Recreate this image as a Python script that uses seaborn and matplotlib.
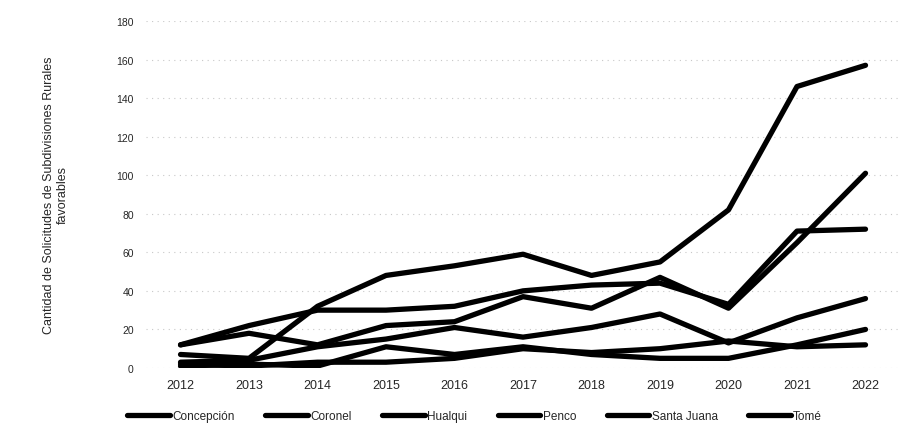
import pandas as pd
import matplotlib.pyplot as plt
import seaborn as sns

years = list(range(2012, 2023))

concepcion = [7, 5, 32, 48, 53, 59, 48, 55, 82, 146, 157]
coronel = [12, 22, 30, 30, 32, 40, 43, 44, 33, 71, 72]
hualqui = [12, 18, 12, 22, 24, 37, 31, 47, 31, 65, 101]
penco = [3, 4, 11, 15, 21, 16, 21, 28, 13, 26, 36]
santa_juana = [1, 2, 1, 11, 7, 11, 7, 5, 5, 12, 20]
tome = [2, 1, 3, 3, 5, 10, 8, 10, 14, 11, 12]

comunas = ["Concepción", "Coronel", "Hualqui", "Penco", "Santa Juana", "Tomé"]
series = [concepcion, coronel, hualqui, penco, santa_juana, tome]

df = pd.DataFrame({
    "year": years * len(comunas),
    "value": sum(series, []),
    "comuna": [c for c in comunas for _ in years],
})

sns.set_style("white")
plt.rcParams["font.family"] = ["Liberation Sans", "DejaVu Sans"]

fig = plt.figure(figsize=(9.2, 4.39), dpi=100)
ax = fig.add_axes([0.159, 0.1595, 0.819, 0.7905])

sns.lineplot(
    data=df, x="year", y="value", hue="comuna",
    palette=["black"] * len(comunas), linewidth=3.8,
    legend=False, ax=ax,
)

ax.set_xlim(2011.5, 2022.5)
ax.set_ylim(0, 180)
ax.set_xticks(years)
ax.set_xticklabels([str(y) for y in years], fontsize=9)
ax.set_yticks(range(0, 181, 20))
ax.tick_params(axis="y", labelsize=7.5, length=0, pad=9)
ax.tick_params(axis="x", length=0, pad=8)
ax.grid(axis="y", color="#c8c8c8", linestyle=(0, (1, 4)), linewidth=0.8)
ax.set_xlabel("")
ax.set_ylabel("Cantidad de Solicitudes de Subdivisiones Rurales\nfavorables",
              fontsize=9, labelpad=34)
for s in ax.spines.values():
    s.set_visible(False)

handles = [plt.Line2D([], [], color="black", linewidth=3.8) for _ in comunas]
fig.legend(handles, comunas, loc="center", bbox_to_anchor=(0.516, 0.05),
           ncol=6, frameon=False, fontsize=8.5, handlelength=3.6,
           handletextpad=0.2, columnspacing=2.6)

fig.savefig("out.png", dpi=100)
